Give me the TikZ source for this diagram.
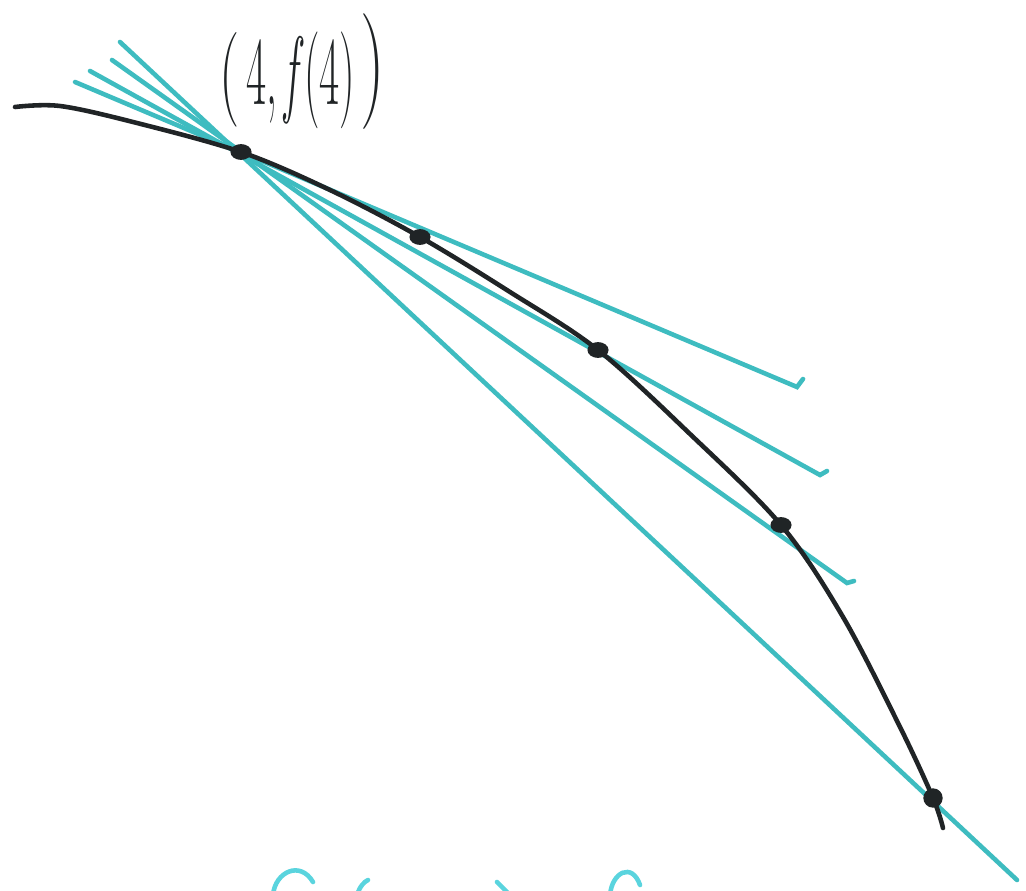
\documentclass[tikz,border=0pt]{standalone}
\usepackage{tikz}
\usetikzlibrary{shapes.geometric}
\definecolor{teal1}{RGB}{62,188,192}
\definecolor{teal2}{RGB}{90,212,222}
\definecolor{ink}{RGB}{32,36,38}
\tikzset{
  secant/.style={draw=teal1, line width=2.6pt, line cap=round},
  curveink/.style={draw=ink, line width=2.6pt, line cap=round},
  dotnode/.style={ellipse, fill=ink, draw=ink, line width=1pt, minimum width=11pt, minimum height=8pt, inner sep=0pt},
  scrawl/.style={draw=teal2, line width=2.6pt, line cap=round},
  labtext/.style={text=ink, inner sep=0pt},
}
\begin{document}
\begin{tikzpicture}[x=0.02cm,y=-0.02cm]
\clip (0,0) rectangle (1026,891);
\fill[white] (0,0) rectangle (1026,891);
% points on curve
\coordinate (P) at (241,152);
\coordinate (Q1) at (420,237);
\coordinate (Q2) at (598,350);
\coordinate (Q3) at (781,525);
\coordinate (Q4) at (933,798);
% secant ends
\coordinate (A0) at (75,82);   \coordinate (A1) at (797,387);
\coordinate (B0) at (90,71);   \coordinate (B1) at (820,475);
\coordinate (C0) at (112,60);  \coordinate (C1) at (847,583);
\coordinate (D0) at (120,42);  \coordinate (D1) at (1017,880);
% secant lines
\draw[secant] (A0) -- (A1) -- ++(6,-8);
\draw[secant] (B0) -- (B1) -- ++(7,-4);
\draw[secant] (C0) -- (C1) -- ++(7,-2);
\draw[secant] (D0) -- (D1);
% curve
\draw[curveink] plot[smooth, tension=0.55] coordinates {(15,107) (60,106) (133,122) (241,152) (330,190) (420,237) (510,292) (598,350) (690,434) (781,525) (843,617) (900,727) (933,798) (943,828)};
% dots
\node[dotnode] (p) at (P) {};
\node[dotnode] (q1) at (Q1) {};
\node[dotnode] (q2) at (Q2) {};
\node[dotnode] (q3) at (Q3) {};
\node[dotnode, minimum width=10pt, minimum height=10pt] (q4) at (Q4) {};
% label
\node[labtext] (lab) at (301,80) {\scalebox{0.54}[1.2]{\fontsize{46}{50}\selectfont 4,\,\textit{f}(4)}};
\node[labtext] (lp) at (230,80) {\scalebox{0.6}[1]{\fontsize{54}{58}\selectfont (}};
\node[labtext] (rp) at (373,72) {\scalebox{0.6}[1]{\fontsize{66}{70}\selectfont )}};
% cut-off strokes at the bottom
\draw[scrawl] (273,895) .. controls (275,872) and (300,860) .. (313,882);
\draw[scrawl] (357,895) .. controls (360,886) and (364,882) .. (368,880);
\draw[scrawl] (497,882) -- (510,895);
\draw[scrawl] (610,895) .. controls (612,872) and (632,862) .. (640,885);
\end{tikzpicture}
\end{document}
